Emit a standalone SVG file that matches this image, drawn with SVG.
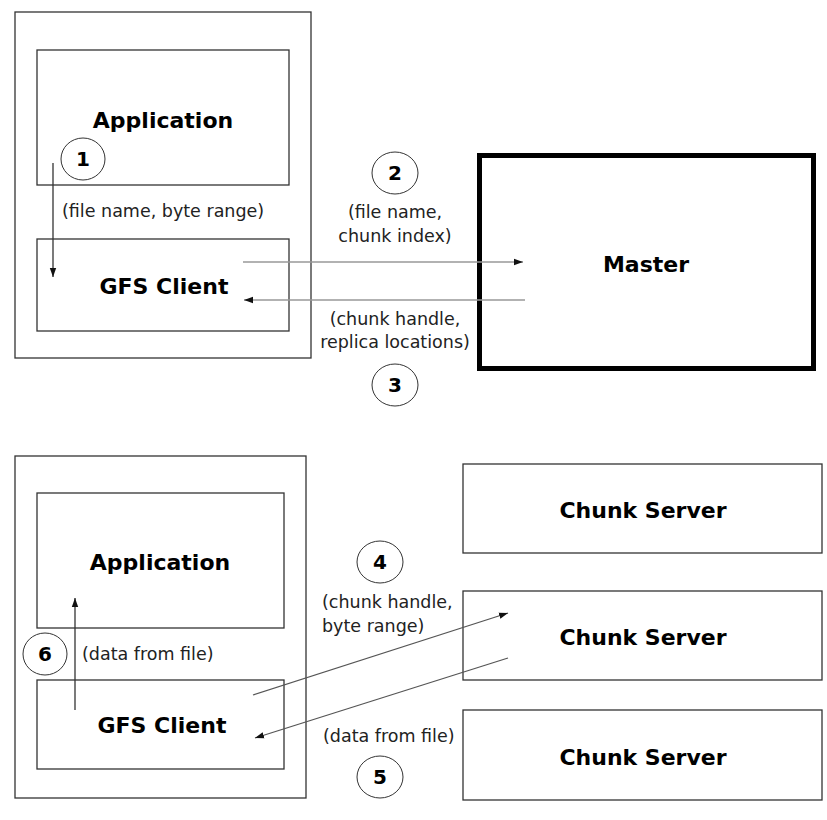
<svg xmlns="http://www.w3.org/2000/svg" width="827" height="820" viewBox="0 0 827 820">
<style>
.box{fill:#fff;stroke:#333;stroke-width:1.3}
.big{font-family:"DejaVu Sans",Verdana,sans-serif;font-weight:bold;font-size:22px;fill:#000;text-anchor:middle}
.sm{font-family:"DejaVu Sans",Verdana,sans-serif;font-size:17.5px;fill:#222}
.num{font-family:"DejaVu Sans",Verdana,sans-serif;font-weight:bold;font-size:20px;fill:#000;text-anchor:middle}
.circ{fill:none;stroke:#333;stroke-width:1}
.con{fill:none;stroke-width:1.3}
</style>
<defs>
<marker id="ah" markerUnits="userSpaceOnUse" markerWidth="10" markerHeight="8" refX="9" refY="4" orient="auto">
<path d="M0,0.8 L9,4 L0,7.2 Z" fill="#111"/>
</marker>
</defs>
<rect width="827" height="820" fill="#fff"/>

<g id="client-top">
<rect class="box" x="15" y="12" width="296" height="346"/>
</g>
<g id="app-top">
<rect class="box" x="37" y="50" width="252" height="135"/>
<text class="big" x="163" y="128">Application</text>
</g>
<g id="gfs-top">
<rect class="box" x="37" y="239" width="252" height="92"/>
<text class="big" x="164" y="294">GFS Client</text>
</g>
<g id="master">
<rect x="479.5" y="155.5" width="334" height="213" fill="#fff" stroke="#000" stroke-width="5"/>
<text class="big" x="646" y="272">Master</text>
</g>

<g id="client-bottom">
<rect class="box" x="15" y="456" width="291" height="342"/>
</g>
<g id="app-bottom">
<rect class="box" x="37" y="493" width="247" height="135"/>
<text class="big" x="160" y="570">Application</text>
</g>
<g id="gfs-bottom">
<rect class="box" x="37" y="680" width="247" height="89"/>
<text class="big" x="162" y="733">GFS Client</text>
</g>
<g id="cs1">
<rect class="box" x="463" y="464" width="359" height="89"/>
<text class="big" x="643" y="518">Chunk Server</text>
</g>
<g id="cs2">
<rect class="box" x="463" y="591" width="359" height="89"/>
<text class="big" x="643" y="645">Chunk Server</text>
</g>
<g id="cs3">
<rect class="box" x="463" y="710" width="359" height="90"/>
<text class="big" x="643" y="765">Chunk Server</text>
</g>

<g id="connectors">
<line class="con" stroke="#333" x1="53" y1="163" x2="53" y2="277" marker-end="url(#ah)"/>
<line class="con" stroke="#999" x1="243" y1="262" x2="523" y2="262" marker-end="url(#ah)"/>
<line class="con" stroke="#999" x1="525" y1="300" x2="244" y2="300" marker-end="url(#ah)"/>
<line class="con" stroke="#555" x1="253" y1="695" x2="508" y2="613" marker-end="url(#ah)"/>
<line class="con" stroke="#555" x1="508" y1="658" x2="255" y2="738" marker-end="url(#ah)"/>
<line class="con" stroke="#333" x1="75" y1="710" x2="75" y2="598" marker-end="url(#ah)"/>
</g>

<g id="labels">
<ellipse class="circ" cx="83" cy="159" rx="22" ry="21"/>
<text class="num" x="83" y="166">1</text>
<text class="sm" x="62" y="217">(file name, byte range)</text>

<ellipse class="circ" cx="395" cy="173" rx="23" ry="21"/>
<text class="num" x="395" y="180">2</text>
<text class="sm" x="395" y="218" text-anchor="middle">(file name,</text>
<text class="sm" x="395" y="242" text-anchor="middle">chunk index)</text>

<text class="sm" x="395" y="325" text-anchor="middle">(chunk handle,</text>
<text class="sm" x="395" y="348" text-anchor="middle">replica locations)</text>
<ellipse class="circ" cx="395" cy="385" rx="23" ry="21"/>
<text class="num" x="395" y="392">3</text>

<ellipse class="circ" cx="380" cy="562" rx="23" ry="21"/>
<text class="num" x="380" y="569">4</text>
<text class="sm" x="322" y="608">(chunk handle,</text>
<text class="sm" x="322" y="632">byte range)</text>

<text class="sm" x="323" y="742">(data from file)</text>
<ellipse class="circ" cx="380" cy="777" rx="23" ry="21"/>
<text class="num" x="380" y="784">5</text>

<ellipse class="circ" cx="45" cy="654" rx="22" ry="21"/>
<text class="num" x="45" y="661">6</text>
<text class="sm" x="82" y="660">(data from file)</text>
</g>
</svg>
